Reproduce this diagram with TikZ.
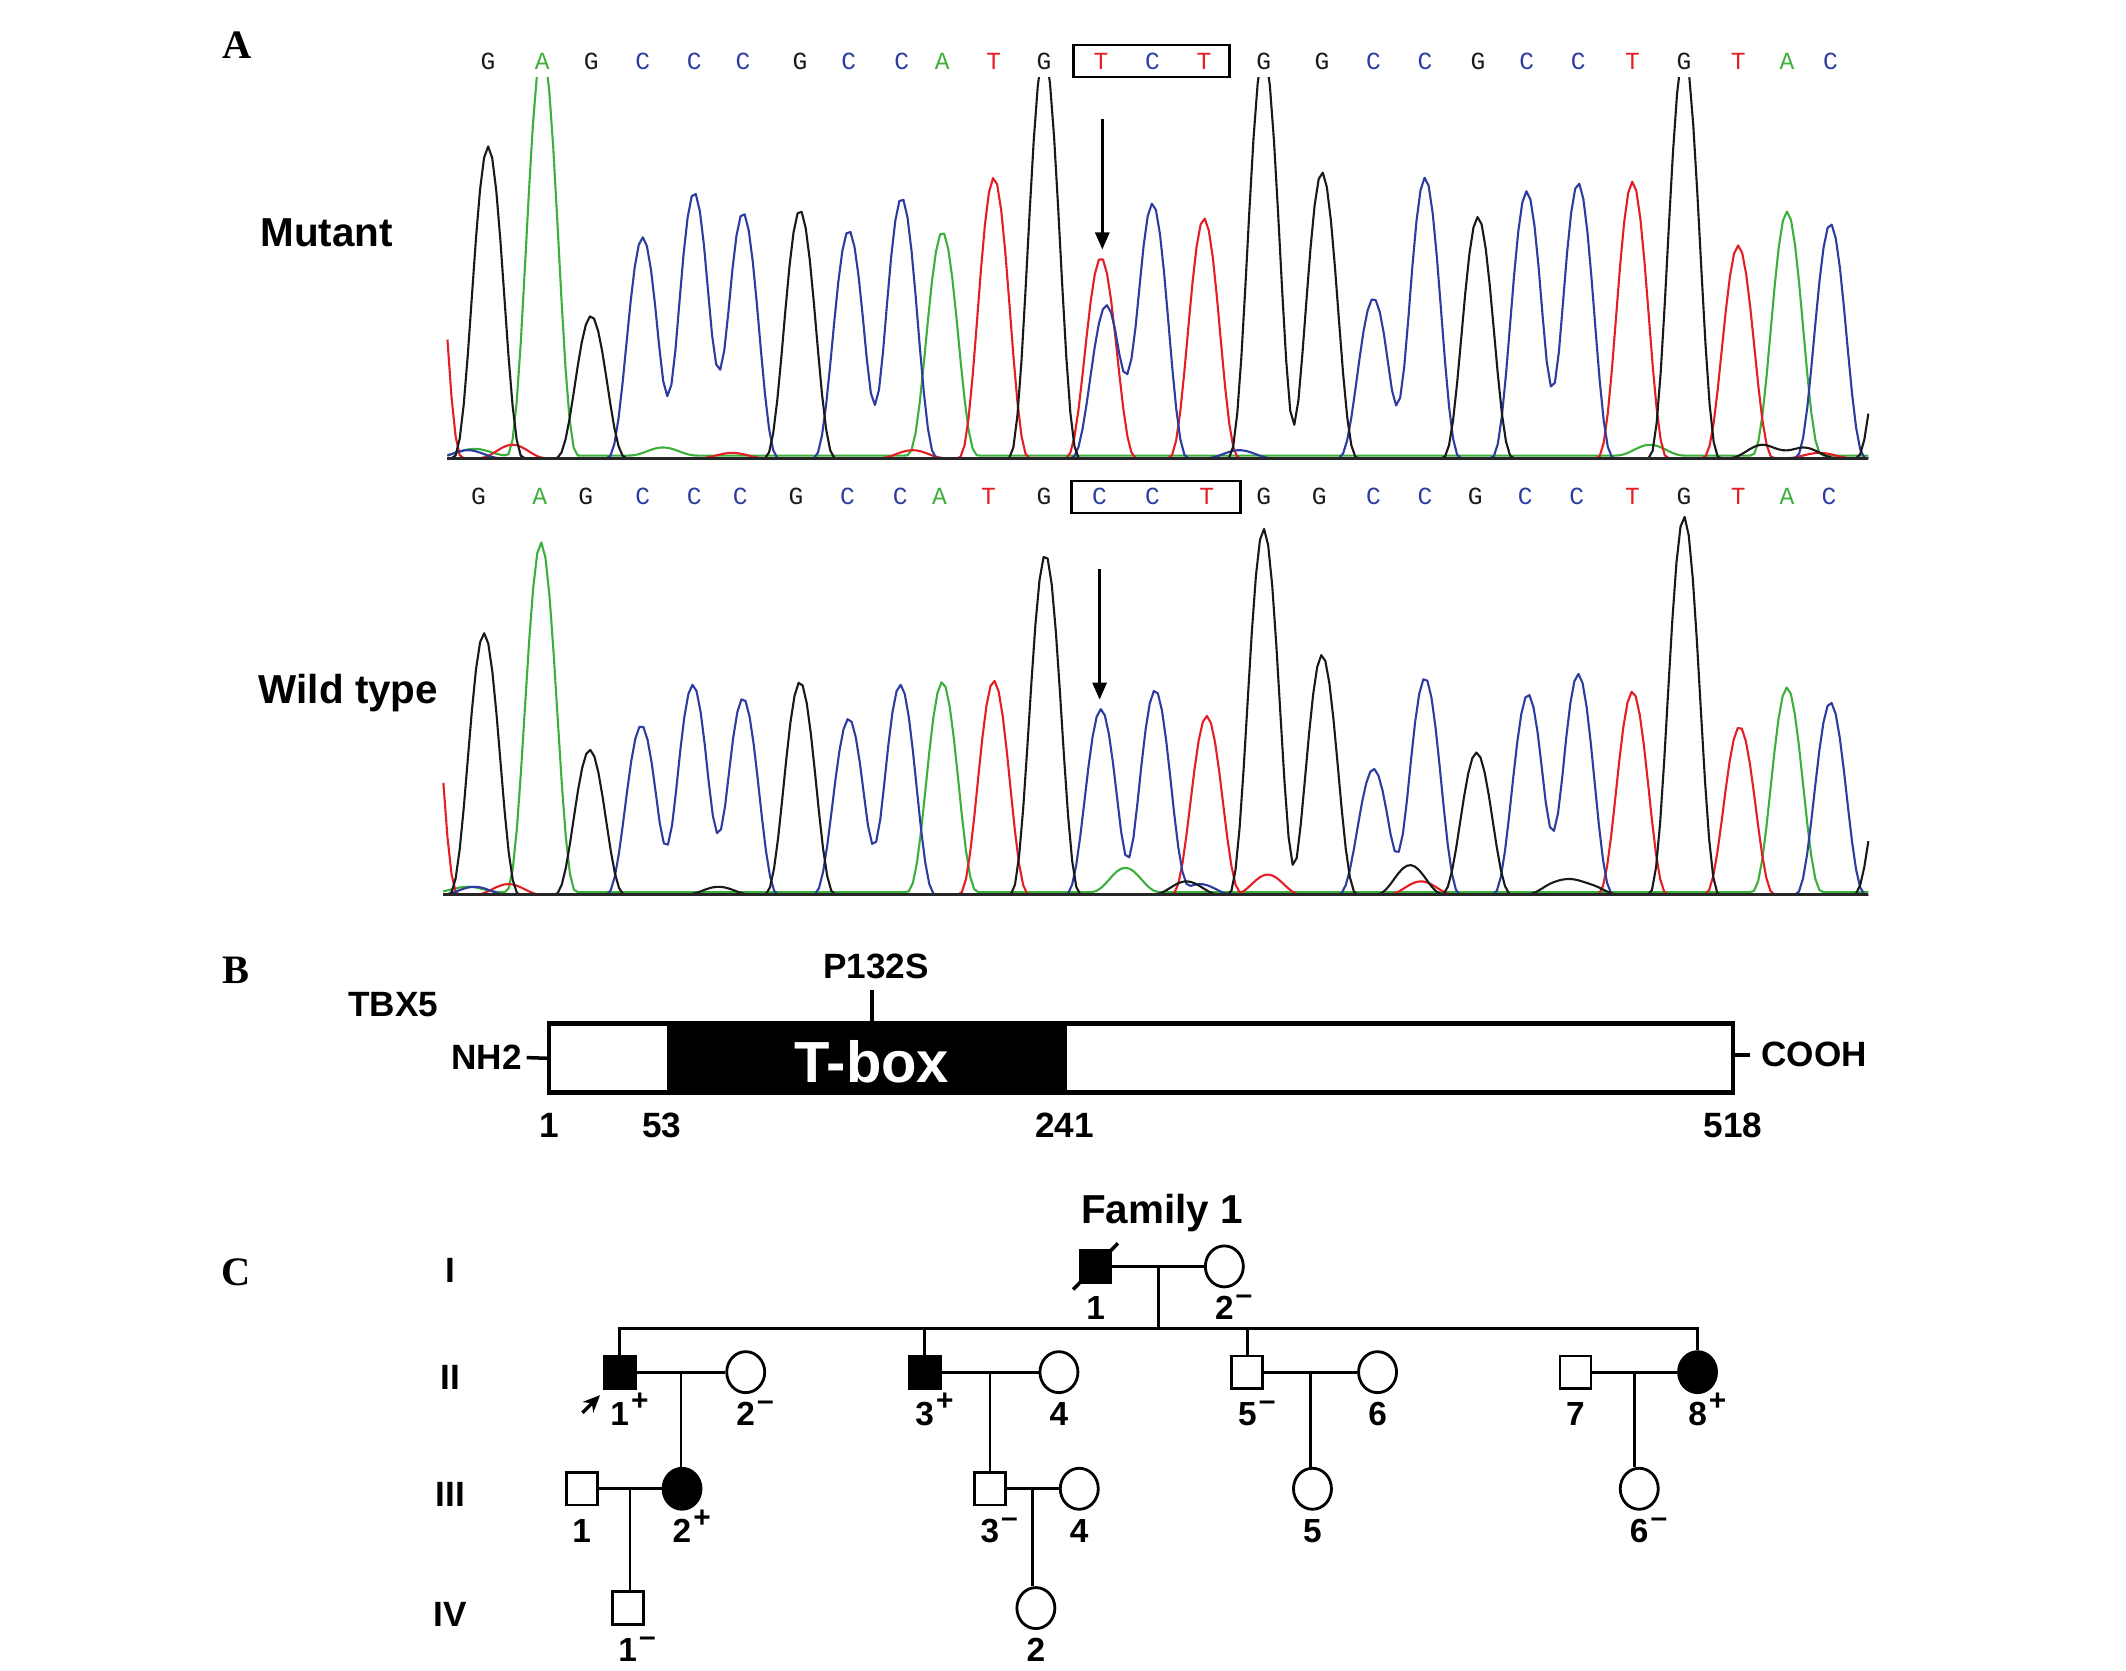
\documentclass[tikz,border=0pt]{standalone}
\usepackage{fontspec}
\setmainfont{Liberation Sans}
\newfontfamily\panelfont{Liberation Serif}
\newfontfamily\seqfont{Liberation Mono}
\usetikzlibrary{positioning,calc,shapes.geometric,arrows.meta}

\definecolor{cG}{RGB}{25,25,25}
\definecolor{cA}{RGB}{60,175,60}
\definecolor{cC}{RGB}{45,60,160}
\definecolor{cT}{RGB}{228,30,36}

\newcommand{\mutpos}{\rlap{\kern0.6pt\raisebox{0.85ex}{\fontsize{8.5}{9}\selectfont +}}}
\newcommand{\mutneg}{\rlap{\kern0.6pt\raisebox{0.85ex}{\fontsize{8.5}{9}\selectfont --}}}

\tikzset{
  panel/.style={font=\panelfont\bfseries\fontsize{11.5}{13}\selectfont, inner sep=0pt},
  lab/.style={font=\bfseries\fontsize{10}{12}\selectfont, inner sep=0pt},
  biglab/.style={font=\bfseries\fontsize{11.5}{13}\selectfont, inner sep=0pt},
  seq/.style={font=\seqfont\fontsize{7}{8}\selectfont, inner sep=0pt},
  seqbox/.style={draw, line width=0.8pt, minimum height=3.2mm, inner sep=0pt},
  trace/.style={line width=0.6pt, line join=round},
  baseline/.style={line width=0.9pt, black!85},
  seqarrow/.style={-{Triangle[length=1.7mm,width=1.4mm]}, line width=0.8pt},
  male/.style={draw, rectangle, line width=0.8pt, minimum width=3.1mm, minimum height=3.25mm, inner sep=0pt},
  female/.style={draw, ellipse, line width=0.8pt, minimum width=3.8mm, minimum height=4.1mm, inner sep=0pt},
  aff/.style={fill=black},
  plab/.style={font=\bfseries\fontsize{9.5}{11}\selectfont, inner sep=0pt, text height=2.3mm, text depth=0pt},
  line/.style={line width=0.8pt}
}

\begin{document}
\begin{tikzpicture}[x=0.13559mm, y=-0.13559mm,
  declare function={pk(\t)=max(0,1-\t*\t); cube(\v)=\v*\v*\v; bm(\p,\cc,\hh)=\hh*cube(pk((\p-\cc)/27));}]
\useasboundingbox (0,0) rectangle (1568,1232);

% A: sequencing traces
\node[panel] (A) at (175,33) {A};
\node[biglab] (mutlab) at (241,172) {Mutant};
\node[biglab] (wtlab) at (257,511) {Wild type};

\foreach \px/\b/\col [count=\i] in {360/G/cG, 400/A/cA, 436/G/cG, 474/C/cC, 512/C/cC, 548/C/cC, 590/G/cG, 626/C/cC, 665/C/cC, 695/A/cA, 733/T/cT, 770/G/cG, 812/T/cT, 850/C/cC, 888/T/cT, 932/G/cG, 975/G/cG, 1013/C/cC, 1051/C/cC, 1090/G/cG, 1126/C/cC, 1164/C/cC, 1204/T/cT, 1242/G/cG, 1282/T/cT, 1318/A/cA, 1350/C/cC}
  \node[seq, text=\col] (m\i) at (\px,45) {\b};
\foreach \px/\b/\col [count=\i] in {353/G/cG, 398/A/cA, 432/G/cG, 474/C/cC, 512/C/cC, 546/C/cC, 587/G/cG, 625/C/cC, 664/C/cC, 693/A/cA, 729/T/cT, 770/G/cG, 811/C/cC, 850/C/cC, 890/T/cT, 932/G/cG, 973/G/cG, 1013/C/cC, 1051/C/cC, 1088/G/cG, 1125/C/cC, 1163/C/cC, 1204/T/cT, 1242/G/cG, 1282/T/cT, 1318/A/cA, 1349/C/cC}
  \node[seq, text=\col] (w\i) at (\px,366) {\b};

\node[seqbox, minimum width=15.6mm] (mbox) at (849.5,45) {};
\node[seqbox, minimum width=16.9mm] (wbox) at (852.5,366.5) {};

% mutant
\begin{scope}
  \clip (320,57) rectangle (1390,345);
  \draw[trace, cA] plot[domain=330:1378, samples=350] (\x, {336-bm(\x,400,300)-bm(\x,695,165)-bm(\x,1318,180)-bm(\x,489,6)-bm(\x,1217,8)-bm(\x,1405,45)-bm(\x,350,5)});
  \draw[trace, cT] plot[domain=330:1378, samples=350] (\x, {338-bm(\x,315,265)-bm(\x,733,207)-bm(\x,812,148)-bm(\x,888,177)-bm(\x,1204,204)-bm(\x,1282,157)-bm(\x,378,10)-bm(\x,540,4)-bm(\x,673,6)-bm(\x,1342,4)});
  \draw[trace, cC] plot[domain=330:1378, samples=350] (\x, {338-bm(\x,474,163)-bm(\x,512,196)-bm(\x,548,181)-bm(\x,626,168)-bm(\x,665,192)-bm(\x,816,113)-bm(\x,850,188)-bm(\x,1013,118)-bm(\x,1051,207)-bm(\x,1126,197)-bm(\x,1164,203)-bm(\x,1350,173)-bm(\x,345,6)-bm(\x,914,6)});
  \draw[trace, cG] plot[domain=330:1378, samples=350] (\x, {338-bm(\x,360,230)-bm(\x,436,105)-bm(\x,590,183)-bm(\x,770,300)-bm(\x,932,300)-bm(\x,975,211)-bm(\x,1090,178)-bm(\x,1242,300)-bm(\x,1395,150)-bm(\x,1300,10)-bm(\x,1330,8)});
\end{scope}
\coordinate (mL) at (330,338);
\coordinate (mR) at (1378,338);
\draw[baseline] (mL) -- (mR);
\coordinate (mA1) at (813,88);
\coordinate (mA2) at (813,184);
\draw[seqarrow] (mA1) -- (mA2);

% wild type
\draw[trace, cA] plot[domain=327:1378, samples=350] (\x, {658-bm(\x,399,258)-bm(\x,695,155)-bm(\x,1318,151)-bm(\x,830,18)-bm(\x,1405,35)-bm(\x,345,4)});
\draw[trace, cT] plot[domain=327:1378, samples=350] (\x, {660-bm(\x,312,250)-bm(\x,733,158)-bm(\x,890,132)-bm(\x,1204,150)-bm(\x,1283,124)-bm(\x,375,8)-bm(\x,935,15)-bm(\x,1048,10)});
\draw[trace, cC] plot[domain=327:1378, samples=350] (\x, {660-bm(\x,473,125)-bm(\x,511,155)-bm(\x,548,145)-bm(\x,626,130)-bm(\x,664,155)-bm(\x,812,137)-bm(\x,852,151)-bm(\x,1013,93)-bm(\x,1051,160)-bm(\x,1127,148)-bm(\x,1164,163)-bm(\x,1350,142)-bm(\x,350,6)-bm(\x,885,8)});
\draw[trace, cG] plot[domain=327:1378, samples=350] (\x, {660-bm(\x,357,193)-bm(\x,435,107)-bm(\x,590,157)-bm(\x,771,251)-bm(\x,932,270)-bm(\x,975,177)-bm(\x,1089,105)-bm(\x,1242,279)-bm(\x,1393,120)-bm(\x,1040,22)-bm(\x,1150,10)-bm(\x,1170,8)-bm(\x,530,6)-bm(\x,875,10)});
\coordinate (wL) at (327,660);
\coordinate (wR) at (1378,660);
\draw[baseline] (wL) -- (wR);
\coordinate (wA1) at (811,420);
\coordinate (wA2) at (811,516);
\draw[seqarrow] (wA1) -- (wA2);

% B: protein
\node[panel] (B) at (174,716) {B};
\node[lab] (tbx5) at (290,741) {TBX5};
\node[draw, line width=1.3pt, minimum width=118.37mm, minimum height=6.9mm, inner sep=0pt] (prot) at (841.5,780.5) {};
\node[fill=black, minimum width=40.0mm, minimum height=6.9mm, inner sep=0pt] (tbox) at (639.5,780.5) {};
\node[font=\bfseries\fontsize{16.5}{18}\selectfont, text=white, inner sep=0pt] (tboxlab) at (643,783) {T-box};
\node[lab] (nh2) at (359,780) {NH2};
\node[lab] (cooh) at (1338,778) {COOH};
\draw[line width=1pt] (nh2.east) ++(3,0) -- (prot.west);
\draw[line width=1pt] (prot.east |- cooh) -- ([xshift=-3]cooh.west);
\node[lab] (p132s) at (646,713) {P132S};
\coordinate (mutsite) at (643,730);
\draw[line width=1pt] (mutsite) -- (mutsite |- prot.north);
\foreach \px/\n in {405/1, 488/53, 785/241, 1278/518}
  \node[lab] (aa\n) at (\px,830) {\n};

% C: pedigree
\node[panel] (C) at (174,938) {C};
\foreach \gy/\g in {937/I, 1016/II, 1102/III, 1191/IV}
  \node[lab] (gen\g) at (332,\gy) {\g};
\node[biglab] (fam) at (857,895) {Family 1};

\node[male, aff] (I1) at (808,934) {};
\node[female] (I2) at (903,934) {};
\node[male, aff] (II1) at (457,1012) {};
\node[female] (II2) at (550,1012) {};
\node[male, aff] (II3) at (682,1012) {};
\node[female] (II4) at (781,1012) {};
\node[male] (II5) at (920,1012) {};
\node[female] (II6) at (1016,1012) {};
\node[male] (II7) at (1162,1012) {};
\node[female, aff] (II8) at (1252,1012) {};
\node[male] (III1) at (429,1098) {};
\node[female, aff] (III2) at (503,1098) {};
\node[male] (III3) at (730,1098) {};
\node[female] (III4) at (796,1098) {};
\node[female] (III5) at (968,1098) {};
\node[female] (III6) at (1209,1098) {};
\node[male] (IV1) at (463,1186) {};
\node[female] (IV2) at (764,1186) {};

% deceased, proband
\coordinate (dsA) at ($(I1.south west)+(-4,4)$);
\coordinate (dsB) at ($(I1.north east)+(4,-4)$);
\draw[line width=1pt] (dsA) -- (dsB);
\coordinate (pbtip) at ($(II1.south west)+(-2,4)$);
\coordinate (pbtail) at ($(pbtip)+(-13,13)$);
\draw[-{Stealth[length=1.7mm,width=1.5mm]}, line width=1pt] (pbtail) -- (pbtip);

% matings and descent
\foreach \a/\b in {I1/I2, II1/II2, II3/II4, II5/II6, II7/II8, III1/III2, III3/III4}
  \draw[line] (\a) -- (\b) coordinate[midway] (mt\a);
\coordinate (sib) at (856,980);
\draw[line] (mtI1) -- (mtI1 |- sib);
\draw[line] (II1.north) |- (sib) -| (II8.north);
\draw[line] (II3.north) -- (II3.north |- sib);
\draw[line] (II5.north) -- (II5.north |- sib);
\draw[line] (mtII1) -- (mtII1 |- III2.north);
\draw[line] (mtII3) -- (mtII3 |- III3.north);
\draw[line] (mtII5) -- (mtII5 |- III5.north);
\draw[line] (mtII7) -- (mtII7 |- III6.north);
\draw[line] (mtIII1) -- (mtIII1 |- IV1.north);
\draw[line] (mtIII3) -- (mtIII3 |- IV2.north);

% labels
\foreach \n/\t in {I1/1, I2/2\mutneg, II1/1\mutpos, II2/2\mutneg, II3/3\mutpos, II4/4, II5/5\mutneg, II6/6, II7/7, II8/8\mutpos, III1/1, III2/2\mutpos, III3/3\mutneg, III4/4, III5/5, III6/6\mutneg, IV1/1\mutneg, IV2/2}
  \node[plab] (l\n) at ($(\n)+(0,31)$) {\t};
\end{tikzpicture}
\end{document}
